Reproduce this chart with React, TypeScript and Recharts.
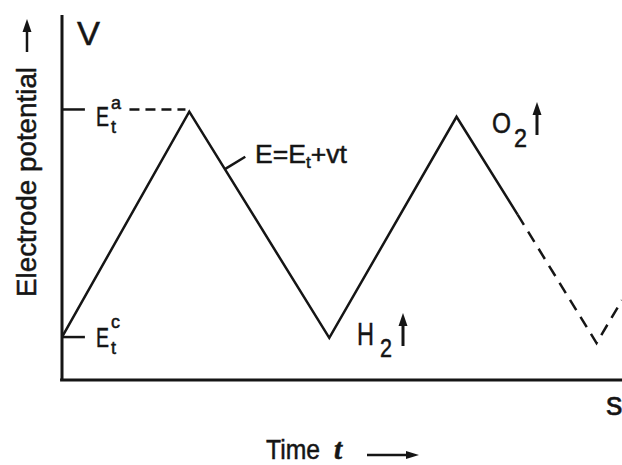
import { LineChart, Line, XAxis, YAxis, ReferenceLine } from 'recharts'

// time (arbitrary units) and electrode potential (arbitrary units)
const sweepTimes = [0, 1.0, 2.1, 3.1, 3.58]
const sweepPotentials = [1.0, 6.25, 0.98, 6.13, 3.85]
const tailTimes = [3.58, 4.2, 4.4]
const tailPotentials = [3.85, 0.86, 1.86]

const anodicLimit = 6.3
const cathodicLimit = 1.0

const solidData = sweepTimes.map((t, i) => ({ t, E: sweepPotentials[i] }))
const dashedData = tailTimes.map((t, i) => ({ t, E: tailPotentials[i] }))

const INK = '#151515'
const FONT = "'Liberation Sans', Arial, sans-serif"

function Annotations() {
  return (
    <svg
      width={622}
      height={465}
      style={{ position: 'absolute', left: 0, top: 0, pointerEvents: 'none' }}
      fontFamily={FONT}
      fill={INK}
    >
      <g stroke={INK} strokeWidth={0.5}>
        {/* axis title, rotated */}
        <text x={36} y={297} fontSize={28} transform="rotate(-90 36 297)" textLength={230} lengthAdjust="spacingAndGlyphs">
          Electrode potential
        </text>

        <text x={77} y={45} fontSize={34} textLength={23} lengthAdjust="spacingAndGlyphs">V</text>

        <text x={96} y={126} fontSize={27}>
          <tspan textLength={13} lengthAdjust="spacingAndGlyphs">E</tspan>
          <tspan x={111} y={109} fontSize={18}>a</tspan>
          <tspan x={111} y={133} fontSize={18}>t</tspan>
        </text>

        <text x={96} y={347} fontSize={27}>
          <tspan textLength={13} lengthAdjust="spacingAndGlyphs">E</tspan>
          <tspan x={111} y={328} fontSize={18}>c</tspan>
          <tspan x={111} y={354} fontSize={18}>t</tspan>
        </text>

        <text x={255} y={163} fontSize={26} textLength={92} lengthAdjust="spacingAndGlyphs">
          E=E<tspan dy={5} fontSize={17}>t</tspan>
          <tspan dy={-5}>+vt</tspan>
        </text>

        <text x={357} y={345} fontSize={32}>
          <tspan textLength={17} lengthAdjust="spacingAndGlyphs">H</tspan>
          <tspan x={380} y={357} fontSize={26} textLength={12} lengthAdjust="spacingAndGlyphs">2</tspan>
        </text>

        <text x={492} y={133} fontSize={29}>
          <tspan textLength={19} lengthAdjust="spacingAndGlyphs">O</tspan>
          <tspan x={514} y={147} fontSize={25} textLength={13} lengthAdjust="spacingAndGlyphs">2</tspan>
        </text>

        <text x={606} y={415} fontSize={33}>s</text>

        <text x={266} y={459} fontSize={28}>
          <tspan textLength={54} lengthAdjust="spacingAndGlyphs">Time</tspan>
          <tspan x={334} fontStyle="italic" fontFamily="'Liberation Serif', serif" fontWeight="bold" fontSize={29}>t</tspan>
        </text>
      </g>

      {/* arrows */}
      <path d="M27 52 L27 28" stroke={INK} strokeWidth={2.5} />
      <path d="M22.5 32 L27 19 L31.5 32 Z" />
      <path d="M403 346 L403 322" stroke={INK} strokeWidth={3} />
      <path d="M398.5 326 L403 313 L407.5 326 Z" />
      <path d="M537 135 L537 111" stroke={INK} strokeWidth={3} />
      <path d="M532.5 115 L537 102 L541.5 115 Z" />
      <path d="M367 455 L410 455" stroke={INK} strokeWidth={2.5} />
      <path d="M406 451 L419 455 L406 459 Z" />
    </svg>
  )
}

export default function App() {
  return (
    <div style={{ position: 'absolute', left: 0, top: 0, width: 622, height: 465, background: '#fff', fontFamily: FONT }}>
      <LineChart width={622} height={465} margin={{ top: 15, right: 0, left: 62, bottom: 85 }}>
        <XAxis type="number" dataKey="t" domain={[0, 4.4]} allowDataOverflow hide />
        <YAxis type="number" dataKey="E" domain={[0, 8.5]} allowDataOverflow hide />
        {/* axes drawn as lines at the domain edges */}
        <ReferenceLine x={0} stroke={INK} strokeWidth={3} />
        <ReferenceLine segment={[{ x: -0.015, y: 0 }, { x: 4.4, y: 0 }]} stroke={INK} strokeWidth={3} ifOverflow="visible" />
        {/* limit markers on the potential axis */}
        <ReferenceLine segment={[{ x: 0, y: anodicLimit }, { x: 0.18, y: anodicLimit }]} stroke={INK} strokeWidth={2.5} />
        <ReferenceLine segment={[{ x: 0, y: cathodicLimit }, { x: 0.18, y: cathodicLimit }]} stroke={INK} strokeWidth={2.5} />
        <ReferenceLine
          segment={[{ x: 0.53, y: anodicLimit }, { x: 0.97, y: anodicLimit }]}
          stroke={INK}
          strokeWidth={2.5}
          strokeDasharray="10 6"
        />
        {/* leader for the sweep equation */}
        <ReferenceLine segment={[{ x: 1.28, y: 4.91 }, { x: 1.44, y: 5.2 }]} stroke={INK} strokeWidth={2.5} />
        <Line
          data={solidData}
          dataKey="E"
          type="linear"
          stroke={INK}
          strokeWidth={2.5}
          dot={false}
          activeDot={false}
          isAnimationActive={false}
        />
        <Line
          data={dashedData}
          dataKey="E"
          type="linear"
          stroke={INK}
          strokeWidth={2.5}
          strokeDasharray="12 8"
          dot={false}
          activeDot={false}
          isAnimationActive={false}
        />
      </LineChart>
      <Annotations />
    </div>
  )
}
